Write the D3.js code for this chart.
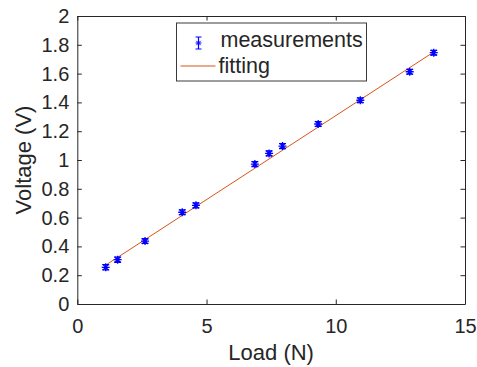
<!DOCTYPE html>
<html>
<head>
<meta charset="utf-8">
<script src="https://cdn.jsdelivr.net/npm/d3@7"></script>
<style>
  body { margin: 0; background: #fff; }
  text { font-family: Arial, "Liberation Sans", Helvetica, sans-serif; fill: #262626; }
</style>
</head>
<body>
<div id="graph"></div>
<script>
// measured points
var loadN   = [1.10, 1.56, 2.62, 4.06, 4.59, 6.87, 7.42, 7.94, 9.32, 10.95, 12.86, 13.79];
var voltage = [0.255, 0.308, 0.437, 0.637, 0.685, 0.972, 1.046, 1.097, 1.250, 1.415, 1.613, 1.745];
var errV    = [0.018, 0.018, 0.016, 0.017, 0.017, 0.017, 0.017, 0.017, 0.016, 0.016, 0.016, 0.016];

// linear fit end points
var fitX = [1.10, 13.79];
var fitY = [0.270, 1.750];

var xTicks = [0, 5, 10, 15];
var yTicks = [0, 0.2, 0.4, 0.6, 0.8, 1, 1.2, 1.4, 1.6, 1.8, 2];

var margin = {top: 16, right: 12, bottom: 63, left: 77.3};
var W = 477, H = 367;
var width = W - margin.left - margin.right,
    height = H - margin.top - margin.bottom;

var axColor = '#262626';
var blue = '#0000ff';
var orange = '#D95319';

var svg = d3.select('#graph').append('svg')
    .attr('width', W).attr('height', H)
  .append('g')
    .attr('transform', 'translate(' + margin.left + ',' + margin.top + ')');

var x = d3.scaleLinear().domain([0, 15]).range([0, width]);
var y = d3.scaleLinear().domain([0, 2]).range([height, 0]);

// axes (ticks inward, box on)
var tl = 4.5;
svg.append('g').attr('transform', 'translate(0,' + height + ')')
  .call(d3.axisBottom(x).tickValues(xTicks).tickSizeInner(-tl).tickSizeOuter(0).tickPadding(15).tickFormat(d3.format('d')))
  .call(styleAxis);
svg.append('g')
  .call(d3.axisLeft(y).tickValues(yTicks).tickSizeInner(-tl).tickSizeOuter(0).tickPadding(8).tickFormat(function(d){ return d3.format('')(+d.toFixed(1)); }))
  .call(styleAxis);
svg.append('g')
  .call(d3.axisTop(x).tickValues(xTicks).tickSizeInner(-tl).tickSizeOuter(0).tickFormat(''))
  .call(styleAxis);
svg.append('g').attr('transform', 'translate(' + width + ',0)')
  .call(d3.axisRight(y).tickValues(yTicks).tickSizeInner(-tl).tickSizeOuter(0).tickFormat(''))
  .call(styleAxis);

function styleAxis(g) {
  g.select('.domain').attr('stroke', axColor).attr('stroke-width', 1);
  g.selectAll('.tick line').attr('stroke', axColor).attr('stroke-width', 1);
  g.selectAll('.tick text').style('font-size', '20px').attr('fill', axColor);
}

// fit line
svg.append('path')
  .datum(fitX.map(function(d, i){ return [d, fitY[i]]; }))
  .attr('fill', 'none').attr('stroke', orange).attr('stroke-width', 1)
  .attr('d', d3.line().x(function(d){ return x(d[0]); }).y(function(d){ return y(d[1]); }));

// error bars + star markers
var pts = loadN.map(function(d, i){ return {x: d, y: voltage[i], e: errV[i]}; });

var eb = svg.append('g').selectAll('g.pt').data(pts).enter().append('g')
  .attr('class', 'pt')
  .attr('transform', function(d){ return 'translate(' + x(d.x) + ',' + y(d.y) + ')'; });

eb.append('path')
  .attr('stroke', blue).attr('stroke-width', 1.3).attr('fill', 'none')
  .attr('d', function(d){
    var h = y(0) - y(d.e), c = 3.5;
    return 'M0,' + (-h) + 'V' + h +
           'M' + (-c) + ',' + (-h) + 'H' + c +
           'M' + (-c) + ',' + h + 'H' + c;
  });
eb.append('path').call(star, 4, 1.3);

function star(sel, r, w) {
  var s = r * 0.72;
  sel.attr('stroke', blue).attr('stroke-width', w).attr('fill', 'none')
    .attr('d', 'M' + (-r) + ',0H' + r + 'M0,' + (-r) + 'V' + r +
               'M' + (-s) + ',' + (-s) + 'L' + s + ',' + s +
               'M' + (-s) + ',' + s + 'L' + s + ',' + (-s));
}

// axis labels
svg.append('text')
  .attr('x', width / 2).attr('y', height + 56)
  .attr('text-anchor', 'middle').style('font-size', '22px')
  .text('Load (N)');
svg.append('text')
  .attr('transform', 'translate(' + (-46) + ',' + (height / 2) + ') rotate(-90)')
  .attr('text-anchor', 'middle').style('font-size', '22px')
  .text('Voltage (V)');

// legend
var lg = svg.append('g').attr('transform', 'translate(' + (176.5 - margin.left) + ',' + (23 - margin.top) + ')');
lg.append('rect').attr('width', 190).attr('height', 58)
  .attr('fill', '#fff').attr('stroke', '#3a3a3a').attr('stroke-width', 1);
var li = lg.append('g').attr('transform', 'translate(22,20)');
li.append('path').attr('stroke', blue).attr('stroke-width', 1.2).attr('fill', 'none')
  .attr('d', 'M0,-6V6M-3,-6H3M-3,6H3');
li.append('path').call(star, 3, 1);
lg.append('text').attr('x', 44).attr('y', 24).style('font-size', '21.5px').attr('fill', '#000').text('measurements');
lg.append('line').attr('x1', 4).attr('x2', 39).attr('y1', 43).attr('y2', 43)
  .attr('stroke', orange).attr('stroke-width', 1);
lg.append('text').attr('x', 42).attr('y', 50).style('font-size', '21.5px').attr('fill', '#000').text('fitting');
</script>
</body>
</html>
